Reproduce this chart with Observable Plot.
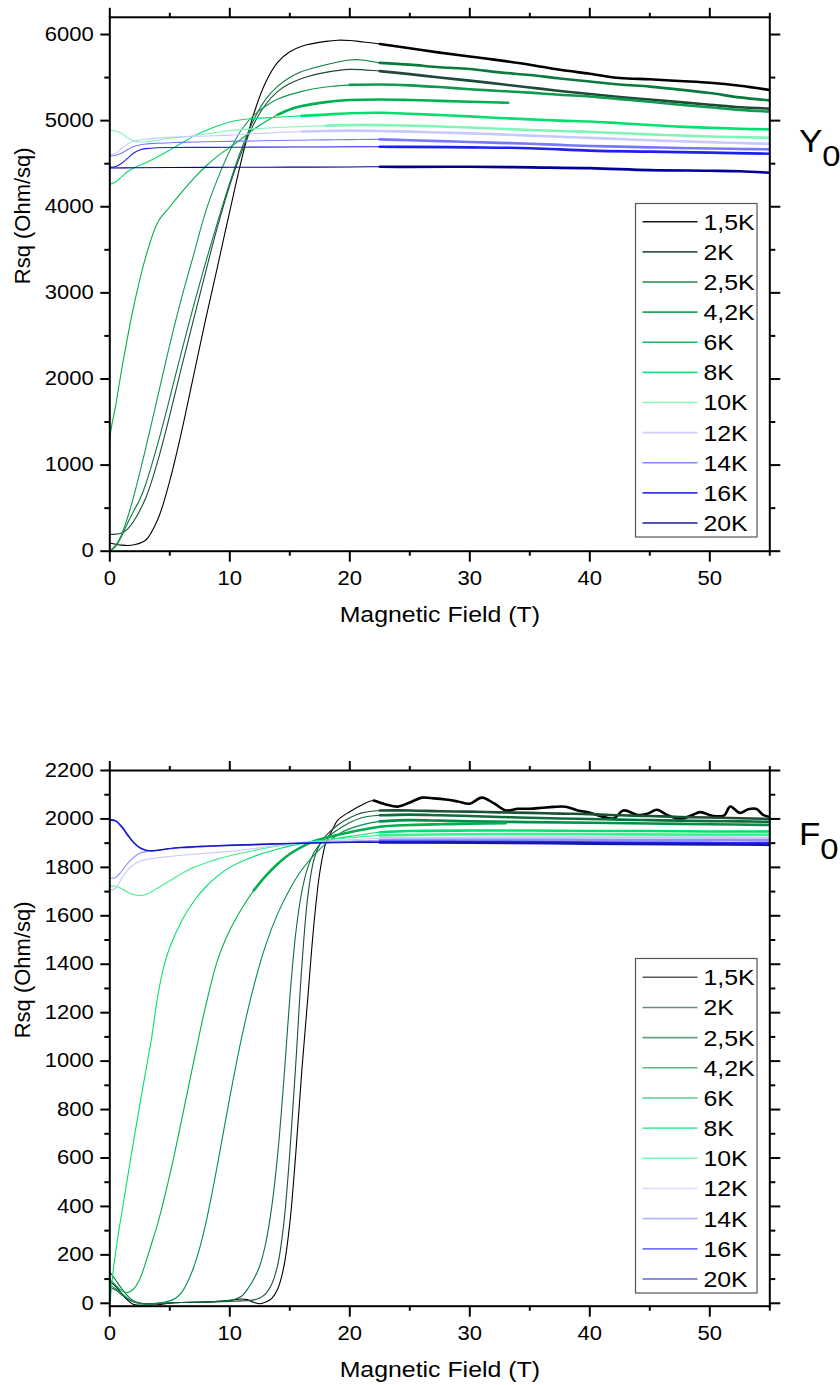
<!DOCTYPE html>
<html><head><meta charset="utf-8">
<script src="https://cdn.jsdelivr.net/npm/d3@7"></script>
<script src="https://cdn.jsdelivr.net/npm/@observablehq/plot@0.6"></script>
<style>
body{margin:0;background:#fff;font-family:"Liberation Sans",Arial,sans-serif;}
#wrap{position:relative;width:840px;height:1385px;overflow:hidden;background:#fff;}
#wrap > svg{display:block;}
#overlay{position:absolute;left:0;top:0;pointer-events:none;}
</style></head>
<body><div id="wrap"></div>
<script>
// ---------- shared labels ----------
const temperatures = ["1,5K","2K","2,5K","4,2K","6K","8K","10K","12K","14K","16K","20K"];
const xTicks = [0,10,20,30,40,50];
const xMinorTicks = [5,15,25,35,45,55];
const xLabel = "Magnetic Field (T)";
const yLabel = "Rsq (Ohm/sq)";

// ---------- sample Y0 : [field (T), Rsq (Ohm/sq)] ----------
const y0_1_5K = [[0,92],[0.5,80],[1,70],[1.5,66],[2,74],[3,130],[4,370],[5,820],[6,1400],[7,2050],[8,2700],[9,3320],[10,3950],[11,4560],[12,5080],[13,5450],[14,5680],[15,5800],[16,5865],[18,5920],[19,5934],[20,5930],[21,5915],[22.5,5890],[25,5840],[27.5,5790],[30,5745],[32.5,5700],[35,5650],[37.5,5590],[40,5545],[42.5,5495],[45,5480],[47.5,5460],[50,5440],[52.5,5405],[55,5355]];
const y0_2K = [[0,195],[0.5,198],[1,210],[1.5,260],[2,350],[3,620],[4,1050],[5,1580],[6,2150],[7,2700],[8,3250],[9,3780],[10,4250],[11,4640],[12,4960],[13,5190],[14,5340],[15,5430],[16,5490],[18,5560],[20,5595],[22.5,5575],[25,5540],[27.5,5500],[30,5465],[32.5,5425],[35,5385],[37.5,5345],[40,5310],[42.5,5275],[45,5245],[47.5,5215],[50,5185],[52.5,5155],[55,5140]];
const y0_2_5K = [[0,0],[0.5,60],[1,180],[1.5,330],[2,470],[2.5,600],[3,780],[4,1250],[5,1780],[6,2330],[7,2860],[8,3360],[9,3830],[10,4280],[11,4680],[12,5010],[13,5250],[14,5400],[15,5500],[16,5570],[18,5650],[20,5705],[21,5705],[22.5,5671],[25,5650],[27.5,5620],[30,5600],[32.5,5560],[35,5530],[37.5,5490],[40,5455],[42.5,5420],[45,5395],[47.5,5360],[50,5320],[52.5,5270],[55,5235]];
const y0_4_2K = [[0,0],[0.5,70],[1,200],[1.5,400],[2,640],[3,1200],[4,1800],[5,2400],[6,2950],[7,3450],[8,3950],[9,4330],[10,4650],[11,4900],[12,5060],[13,5170],[14,5250],[16,5340],[18,5390],[20,5415],[22.5,5420],[25,5410],[27.5,5390],[30,5365],[32.5,5345],[35,5325],[37.5,5300],[40,5280],[42.5,5250],[45,5220],[47.5,5185],[50,5155],[52.5,5125],[55,5105]];
const y0_6K = [[0,240],[0,1300],[0.5,1700],[1,2120],[1.5,2500],[2,2850],[3,3420],[4,3820],[5,4000],[6,4170],[7,4330],[8,4470],[9,4590],[10,4690],[11,4790],[12,4900],[13,4990],[14,5070],[15,5130],[16,5170],[18,5215],[20,5240],[22.5,5246],[25,5240],[27.5,5230],[30,5220],[32.5,5210],[33.2,5207]];
const y0_8K = [[0,4260],[0.5,4290],[1,4350],[1.5,4410],[2,4450],[3,4510],[4,4580],[5,4660],[6,4740],[7,4820],[8,4885],[9,4940],[10,4985],[11,5010],[12,5025],[14,5040],[16,5055],[18,5070],[20,5085],[22.5,5091],[25,5080],[27.5,5065],[30,5050],[32.5,5030],[35,5015],[37.5,5000],[40,4990],[42.5,4970],[45,4950],[47.5,4930],[50,4918],[52.5,4905],[55,4898]];
const y0_10K = [[0,4887],[0.5,4880],[1,4850],[1.5,4800],[2,4765],[2.5,4752],[3,4755],[4,4775],[5,4795],[6,4810],[7,4825],[8,4845],[9,4865],[10,4885],[12,4905],[14,4920],[16,4932],[18,4942],[20,4948],[22.5,4948],[25,4942],[27.5,4932],[30,4920],[32.5,4905],[35,4892],[37.5,4880],[40,4870],[42.5,4855],[45,4840],[47.5,4828],[50,4815],[52.5,4808],[55,4801]];
const y0_12K = [[0,4600],[0.5,4625],[1,4680],[1.5,4730],[2,4760],[3,4785],[4,4798],[5,4806],[6,4812],[8,4822],[10,4832],[12,4848],[14,4862],[16,4873],[18,4880],[20,4884],[22.5,4879],[25,4872],[27.5,4862],[30,4852],[32.5,4840],[35,4826],[37.5,4812],[40,4800],[42.5,4786],[45,4772],[47.5,4760],[50,4750],[52.5,4740],[55,4731]];
const y0_14K = [[0,4590],[0.5,4598],[1,4625],[1.5,4665],[2,4700],[3,4728],[4,4738],[5,4744],[6,4748],[8,4754],[10,4759],[12,4764],[14,4769],[16,4773],[18,4777],[20,4780],[22.5,4782],[25,4772],[27.5,4762],[30,4752],[32.5,4742],[35,4732],[37.5,4718],[40,4705],[42.5,4698],[45,4690],[47.5,4682],[50,4676],[52.5,4671],[55,4666]];
const y0_16K = [[0,4460],[0.5,4468],[1,4505],[1.5,4565],[2,4625],[2.5,4660],[3,4675],[4,4685],[5,4688],[8,4690],[12,4692],[16,4694],[20,4696],[22.5,4697],[25,4695],[30,4690],[35,4680],[40,4652],[45,4640],[50,4628],[55,4616]];
const y0_20K = [[0,4450],[2,4452],[5,4455],[10,4458],[15,4460],[20,4462],[22.5,4465],[25,4463],[30,4465],[35,4457],[40,4448],[45,4425],[50,4418],[52.5,4412],[55,4395]];
const y0HighFieldFrom = [22.5,22.5,22.5,19,14,16,17,16,22.5,22.5,22.5];
const y0Ticks = [0,1000,2000,3000,4000,5000,6000];
const y0MinorTicks = [500,1500,2500,3500,4500,5500];

// ---------- sample F0 ----------
const f0_1_5K = [[0,90],[0.5,70],[1,40],[1.5,12],[2,-5],[3,-8],[4,-6],[5,0],[6,3],[7,4],[8,5],[9,8],[10,12],[11,18],[11.5,14],[12,4],[12.5,-2],[13,5],[13.5,20],[14,60],[14.5,150],[15,330],[15.5,620],[16,960],[16.5,1260],[17,1560],[17.5,1780],[18,1900],[18.5,1950],[19,1995],[20,2030],[21,2058],[22,2076],[23,2060],[24,2051],[25,2068],[26,2088],[27,2085],[28,2080],[29,2072],[30,2063],[31,2088],[32,2065],[33,2035],[34,2042],[35,2042],[36,2046],[37,2050],[38,2050],[39,2035],[40,2026],[41,2010],[42,2002],[42.8,2035],[44,2016],[44.8,2021],[45.6,2038],[46.5,2015],[47.6,2001],[48.5,2015],[49.2,2028],[50.3,2012],[51.2,2015],[51.7,2051],[52.5,2025],[53.2,2040],[53.9,2041],[54.4,2018],[55,2008]];
const f0_2K = [[0,65],[0.5,55],[1,35],[1.5,18],[2,6],[3,-2],[4,0],[6,3],[8,5],[10,8],[11,10],[12,14],[12.5,22],[13,40],[13.5,80],[14,160],[14.5,330],[15,620],[15.5,990],[16,1390],[16.5,1680],[17,1830],[17.5,1895],[18,1930],[19,1975],[20,2005],[21,2025],[22.5,2035],[25,2035],[27.5,2032],[30,2030],[32.5,2027],[35,2025],[37.5,2022],[40,2020],[42.5,2015],[45,2012],[47.5,2008],[50,2006],[52.5,2003],[55,2000]];
const f0_2_5K = [[0,130],[0.5,95],[1,60],[1.5,30],[2,10],[3,-2],[4,0],[6,3],[8,6],[9,8],[10,12],[10.5,18],[11,30],[11.5,60],[12,100],[12.5,155],[13,250],[13.5,400],[14,620],[14.5,920],[15,1260],[15.5,1530],[16,1700],[16.5,1800],[17,1860],[17.5,1895],[18,1920],[19,1955],[20,1985],[21,2005],[22.5,2015],[25,2018],[27.5,2015],[30,2012],[32.5,2008],[35,2005],[37.5,2002],[40,2000],[42.5,1997],[45,1995],[47.5,1993],[50,1991],[52.5,1990],[55,1988]];
const f0_4_2K = [[0,75],[0.5,60],[1,40],[1.5,20],[2,5],[3,-5],[4,0],[5,10],[5.5,22],[6,45],[6.5,90],[7,150],[7.5,230],[8,330],[8.5,450],[9,580],[10,850],[11,1100],[12,1310],[13,1480],[14,1610],[15,1710],[16,1790],[17,1850],[18,1898],[19,1935],[20,1960],[22.5,1990],[25,1995],[27.5,1993],[30,1990],[35,1987],[40,1984],[45,1981],[50,1978],[55,1975]];
const f0_6K = [[0,100],[0.5,75],[1,52],[1.5,45],[2,60],[2.5,100],[3,170],[3.5,250],[4,330],[5,530],[6,760],[7,1000],[8,1230],[9,1420],[10,1540],[11,1630],[12,1705],[13,1765],[14,1815],[15,1855],[16,1885],[17,1908],[18,1922],[20,1945],[22.5,1968],[25,1975],[27.5,1978],[30,1980],[33,1982]];
const f0_8K = [[0,-10],[0.25,120],[0.5,215],[0.75,300],[1,375],[1.5,525],[2,675],[2.5,820],[3,960],[3.5,1100],[4,1270],[4.5,1390],[5,1470],[6,1580],[7,1660],[8,1720],[9,1765],[10,1800],[12,1845],[14,1876],[16,1898],[18,1913],[20,1928],[22.5,1945],[25,1950],[30,1952],[35,1952],[40,1950],[45,1950],[50,1948],[55,1948]];
const f0_10K = [[0,-10],[0,1718],[0.5,1722],[1,1712],[1.5,1697],[2,1687],[2.5,1684],[3,1688],[3.5,1700],[4,1715],[5,1745],[6,1775],[7,1800],[8,1818],[9,1835],[10,1848],[12,1870],[14,1888],[16,1902],[18,1913],[20,1922],[22.5,1932],[30,1937],[40,1937],[50,1935],[55,1935]];
const f0_12K = [[0,1705],[0.5,1715],[1,1755],[1.5,1790],[2,1812],[2.5,1825],[3,1832],[4,1840],[5,1845],[6,1850],[8,1858],[10,1866],[12,1878],[14,1890],[16,1900],[18,1908],[20,1914],[22.5,1920],[30,1922],[40,1923],[50,1923],[55,1922]];
const f0_14K = [[0,1755],[0.5,1758],[1,1785],[1.5,1818],[2,1842],[2.5,1858],[3,1865],[4,1870],[5,1876],[6,1880],[8,1885],[10,1889],[12,1892],[14,1896],[16,1900],[18,1905],[20,1908],[22.5,1912],[30,1913],[40,1912],[50,1912],[55,1912]];
const f0_16K = [[0,1995],[0.5,1990],[1,1965],[1.5,1930],[2,1900],[2.5,1880],[3,1870],[3.5,1868],[4,1870],[5,1878],[6,1883],[8,1888],[10,1892],[12,1895],[14,1898],[16,1900],[18,1903],[20,1905],[22.5,1906],[30,1905],[40,1903],[50,1900],[55,1900]];
const f0_20K = [[0,1998],[0.5,1993],[1,1970],[1.5,1935],[2,1903],[2.5,1882],[3,1872],[3.5,1869],[4,1871],[5,1878],[6,1882],[8,1887],[10,1891],[12,1894],[14,1897],[16,1899],[18,1901],[20,1903],[22.5,1903],[30,1902],[40,1898],[50,1895],[55,1893]];
const f0HighFieldFrom = [22,22.5,22.5,22.5,12,22.5,22.5,22.5,22.5,22.5,22.5];
const f0Ticks = [0,200,400,600,800,1000,1200,1400,1600,1800,2000,2200];
const f0MinorTicks = [100,300,500,700,900,1100,1300,1500,1700,1900,2100];

const y0Series = [y0_1_5K,y0_2K,y0_2_5K,y0_4_2K,y0_6K,y0_8K,y0_10K,y0_12K,y0_14K,y0_16K,y0_20K];
const f0Series = [f0_1_5K,f0_2K,f0_2_5K,f0_4_2K,f0_6K,f0_8K,f0_10K,f0_12K,f0_14K,f0_16K,f0_20K];

// ---------- colours ----------
const y0Colors = ["#000000","#1e4a36","#0b7a3e","#0f9a50","#00b050","#00e070","#80f5b8","#c8c8ff","#7878ff","#1f1fee","#000099"];
const f0Colors = ["#000000","#1b5235","#0f6e3c","#009048","#00b050","#00e070","#40f090","#c8c8ff","#9090ff","#2828ff","#1515b8"];

const FONT = "Liberation Sans, Arial, sans-serif";
const TICK_FS = 19.5;

function chart(series, colors, hiFrom, o) {
  const X = p => p[0], Y = p => p[1];
  const lines = [];
  series.forEach((pts, i) => {
    lines.push(Plot.line(pts, {x: X, y: Y, stroke: colors[i], strokeWidth: 1.1, curve: "catmull-rom", clip: true}));
    lines.push(Plot.line(pts.filter(p => p[0] >= hiFrom[i]), {x: X, y: Y, stroke: colors[i], strokeWidth: 2.6, curve: "catmull-rom", clip: true}));
  });
  const blank = () => "";
  return Plot.plot({
    width: 840, height: o.height,
    marginLeft: 109.3, marginRight: 70.7, marginTop: o.mt, marginBottom: o.mb,
    x: {domain: [0, 55]},
    y: {domain: o.yDomain},
    style: {fontFamily: FONT, fontSize: TICK_FS + "px", background: "white", color: "black", overflow: "visible"},
    marks: [
      ...lines,
      Plot.axisX({ticks: xTicks, tickSize: 11, tickPadding: 9, strokeWidth: 2, tickFormat: d => String(d), label: null, fontSize: TICK_FS}),
      Plot.axisX({ticks: xMinorTicks, tickSize: 5, strokeWidth: 2, tickFormat: blank, label: null}),
      Plot.axisX({anchor: "top", ticks: xTicks, tickSize: 10, strokeWidth: 2, tickFormat: blank, label: null}),
      Plot.axisX({anchor: "top", ticks: xMinorTicks, tickSize: 5, strokeWidth: 2, tickFormat: blank, label: null}),
      Plot.axisY({ticks: o.yTicks, tickSize: 9, tickPadding: 7, strokeWidth: 2, tickFormat: d => String(d), label: null, fontSize: TICK_FS}),
      Plot.axisY({ticks: o.yMinor, tickSize: 5, strokeWidth: 2, tickFormat: blank, label: null}),
      Plot.axisY({anchor: "right", ticks: o.yTicks, tickSize: 10, strokeWidth: 2, tickFormat: blank, label: null}),
      Plot.axisY({anchor: "right", ticks: o.yMinor, tickSize: 5, strokeWidth: 2, tickFormat: blank, label: null}),
      Plot.frame({strokeWidth: 2}),
      Plot.text([xLabel], {text: d => d, frameAnchor: "bottom", dy: 71, fontSize: 22}),
      Plot.text([yLabel], {text: d => d, frameAnchor: "left", dx: -87, rotate: -90, fontSize: 22})
    ]
  });
}

const wrap = document.getElementById("wrap");
wrap.appendChild(chart(y0Series, y0Colors, y0HighFieldFrom, {height: 692, mt: 16.8, mb: 141.3, yDomain: [0, 6200], yTicks: y0Ticks, yMinor: y0MinorTicks}));
wrap.appendChild(chart(f0Series, f0Colors, f0HighFieldFrom, {height: 693, mt: 78, mb: 79.3, yDomain: [-12, 2200], yTicks: f0Ticks, yMinor: f0MinorTicks}));

// ---------- legends and sample names ----------
const ov = d3.select(wrap).append("svg").attr("id", "overlay").attr("width", 840).attr("height", 1385)
  .style("font-family", FONT);

function legend(x0, y0, w, h, firstRow, step, colors, opacity) {
  const g = ov.append("g");
  g.append("rect").attr("x", x0).attr("y", y0).attr("width", w).attr("height", h)
    .attr("fill", "white").attr("stroke", "#555").attr("stroke-width", 1.2);
  temperatures.forEach((t, i) => {
    const cy = firstRow + i * step;
    g.append("line").attr("x1", x0 + 7).attr("x2", x0 + 62).attr("y1", cy).attr("y2", cy)
      .attr("stroke", colors[i]).attr("stroke-width", 1.6).attr("stroke-opacity", opacity);
    g.append("text").attr("x", x0 + 68).attr("y", cy).attr("dy", "0.36em")
      .attr("font-size", 22).attr("fill", "black").text(t);
  });
}
legend(635.5, 203.5, 121.5, 333.5, 221.7, 30.13, y0Colors, 0.9);
legend(635.5, 958.5, 121.5, 334.5, 977.3, 30.17, f0Colors, 0.65);

function sampleName(x, y, letter) {
  const t = ov.append("text").attr("x", x).attr("y", y).attr("font-size", 31).attr("fill", "black");
  t.append("tspan").text(letter);
  t.append("tspan").attr("dy", 14).attr("font-size", 29).text("0");
}
sampleName(799, 152, "Y");
sampleName(799, 845, "F");

// the reference lettering is slightly wider than Arial: widen horizontal text a little
const WIDEN = 1.13;
wrap.querySelectorAll("svg text").forEach(t => {
  const tr = (t.getAttribute("transform") || "") + ((t.parentNode && t.parentNode.getAttribute && t.parentNode.getAttribute("transform")) || "");
  if (/rotate/.test(tr)) return;
  const L = t.getComputedTextLength();
  if (L > 0) { t.setAttribute("textLength", (L * WIDEN).toFixed(1)); t.setAttribute("lengthAdjust", "spacingAndGlyphs"); }
});
</script>
</body></html>
